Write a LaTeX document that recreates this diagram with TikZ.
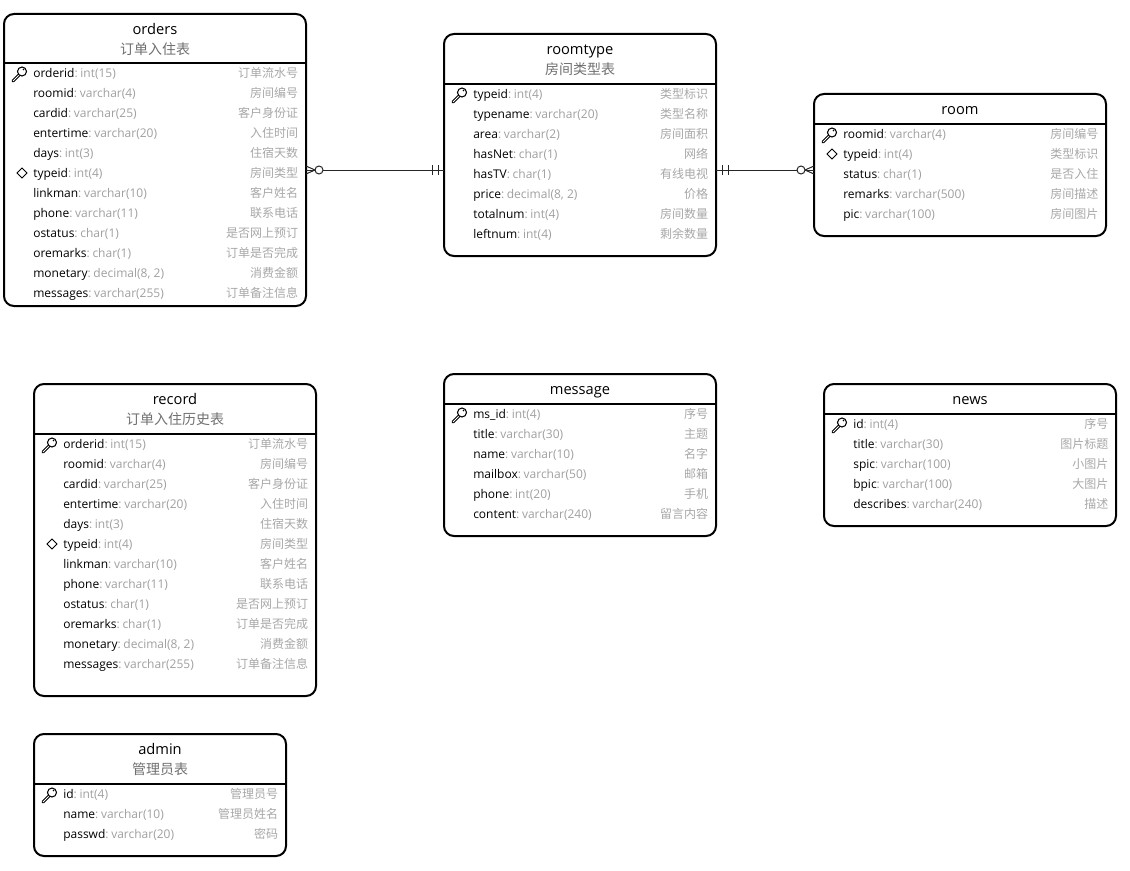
\documentclass[tikz,border=0pt]{standalone}
\usepackage{fontspec}
\setmainfont{Open Sans}
\newfontfamily\cjk{Noto Sans CJK SC}
\definecolor{typegray}{HTML}{A0A0A0}
\definecolor{subgray}{HTML}{707070}
\definecolor{notegray}{HTML}{A8A8A8}
\tikzset{
  tablebox/.style={draw=black,line width=1.5pt,rounded corners=7.5pt,inner sep=0pt,outer sep=0pt,anchor=north west,fill=white},
  rulerline/.style={draw=black,line width=1.5pt},
  titletext/.style={inner sep=0pt,anchor=base,font=\fontsize{11}{12}\selectfont,text=black},
  subtext/.style={inner sep=0pt,anchor=base,font=\fontsize{10.5}{12}\cjk\selectfont,text=subgray},
  rowtext/.style={inner sep=0pt,anchor=base west,font=\fontsize{9}{11}\selectfont,text=black},
  notetext/.style={inner sep=0pt,anchor=base east,font=\fontsize{9}{11}\cjk\selectfont,text=notegray},
  relline/.style={draw=black!85,line width=.75pt},
  keymark/.style={draw=black,line width=.55pt,fill=white},
}
% row marks, drawn round the given centre of the row
\newcommand{\markn}[2]{}
\newcommand{\markd}[2]{\draw[keymark,line width=.75pt] (#1+13,#2) -- ++(5,-5) -- ++(5,5) -- ++(-5,5) -- cycle;}
\newcommand{\markk}[2]{%
  \draw[black,line width=2.2pt,line cap=round] (#1+9,#2+8) -- (#1+15,#2+2);
  \draw[white,line width=.7pt] (#1+9,#2+8) -- (#1+15,#2+2);
  \draw[keymark,line width=.8pt] (#1+18,#2-1.5) circle[radius=4.5];
  \fill[black] (#1+19.5,#2-3.5) circle[radius=.9];
}
% id, x1, y1, x2, y2, rule y, title, subtitle, rows
\newcommand{\ertable}[9]{%
  \pgfmathsetlengthmacro{\bw}{(#4-#2)*.75pt}%
  \pgfmathsetlengthmacro{\bh}{(#5-#3)*.75pt}%
  \node[tablebox,minimum width=\bw,minimum height=\bh] (#1) at (#2,#3) {};
  \draw[rulerline] (#1.west |- 0,#6) -- (#1.east |- 0,#6);
  \pgfmathsetmacro{\mx}{(#2+#4)/2}%
  \node[titletext] (#1-title) at (\mx,#3+20.5) {#7};
  \if\relax\detokenize{#8}\relax\else
  \node[subtext] (#1-sub) at (\mx,#3+40.5) {#8};
  \fi
  \foreach \k/\n/\t/\c [count=\i from 0] in {#9}{
    \pgfmathsetmacro{\ry}{#6+10+20*\i}
    \csname mark\k\endcsname{#2}{\ry}
    \node[rowtext] (#1-l\i) at (#2+29,\ry+4.5) {\n{\color{typegray}:\hspace{2pt}\t}};
    \node[notetext] (#1-r\i) at (#4-7.5,\ry+4.5) {\c};
  }
}
\begin{document}
\begin{tikzpicture}[x=.75pt,y=-.75pt]
\useasboundingbox[fill=white] (0,0) rectangle (1130,870);
\ertable{orders}{4}{14}{306}{306}{63}{orders}{订单入住表}{
 k/orderid/int(15)/订单流水号, n/roomid/varchar(4)/房间编号, n/cardid/varchar(25)/客户身份证,
 n/entertime/varchar(20)/入住时间, n/days/int(3)/住宿天数, d/typeid/int(4)/房间类型,
 n/linkman/varchar(10)/客户姓名, n/phone/varchar(11)/联系电话, n/ostatus/char(1)/是否网上预订,
 n/oremarks/char(1)/订单是否完成, n/monetary/{decimal(8, 2)}/消费金额, n/messages/varchar(255)/订单备注信息}
\ertable{roomtype}{444}{34}{716}{256}{84}{roomtype}{房间类型表}{
 k/typeid/int(4)/类型标识, n/typename/varchar(20)/类型名称, n/area/varchar(2)/房间面积,
 n/hasNet/char(1)/网络, n/hasTV/char(1)/有线电视, n/price/{decimal(8, 2)}/价格,
 n/totalnum/int(4)/房间数量, n/leftnum/int(4)/剩余数量}
\ertable{room}{814}{94}{1106}{236}{124}{room}{}{
 k/roomid/varchar(4)/房间编号, d/typeid/int(4)/类型标识, n/status/char(1)/是否入住,
 n/remarks/varchar(500)/房间描述, n/pic/varchar(100)/房间图片}
\ertable{record}{34}{384}{316}{696}{434}{record}{订单入住历史表}{
 k/orderid/int(15)/订单流水号, n/roomid/varchar(4)/房间编号, n/cardid/varchar(25)/客户身份证,
 n/entertime/varchar(20)/入住时间, n/days/int(3)/住宿天数, d/typeid/int(4)/房间类型,
 n/linkman/varchar(10)/客户姓名, n/phone/varchar(11)/联系电话, n/ostatus/char(1)/是否网上预订,
 n/oremarks/char(1)/订单是否完成, n/monetary/{decimal(8, 2)}/消费金额, n/messages/varchar(255)/订单备注信息}
\ertable{message}{444}{374}{716}{536}{404}{message}{}{
 k/ms\_id/int(4)/序号, n/title/varchar(30)/主题, n/name/varchar(10)/名字,
 n/mailbox/varchar(50)/邮箱, n/phone/int(20)/手机, n/content/varchar(240)/留言内容}
\ertable{news}{824}{384}{1116}{526}{414}{news}{}{
 k/id/int(4)/序号, n/title/varchar(30)/图片标题, n/spic/varchar(100)/小图片,
 n/bpic/varchar(100)/大图片, n/describes/varchar(240)/描述}
\ertable{admin}{34}{734}{286}{856}{784}{admin}{管理员表}{
 k/id/int(4)/管理员号, n/name/varchar(10)/管理员姓名, n/passwd/varchar(20)/密码}
% orders -- roomtype
\draw[relline] (orders.east |- 0,170) -- (roomtype.west |- 0,170);
\draw[relline] (orders.east |- 0,166) -- (315,170) -- (orders.east |- 0,174);
\draw[relline,fill=white] (319,170) circle[radius=4];
\draw[relline] (432,165) -- (432,175) (438,165) -- (438,175);
% roomtype -- room
\draw[relline] (roomtype.east |- 0,170) -- (room.west |- 0,170);
\draw[relline] (room.west |- 0,166) -- (805,170) -- (room.west |- 0,174);
\draw[relline,fill=white] (801,170) circle[radius=4];
\draw[relline] (722,165) -- (722,175) (728,165) -- (728,175);
\end{tikzpicture}
\end{document}
